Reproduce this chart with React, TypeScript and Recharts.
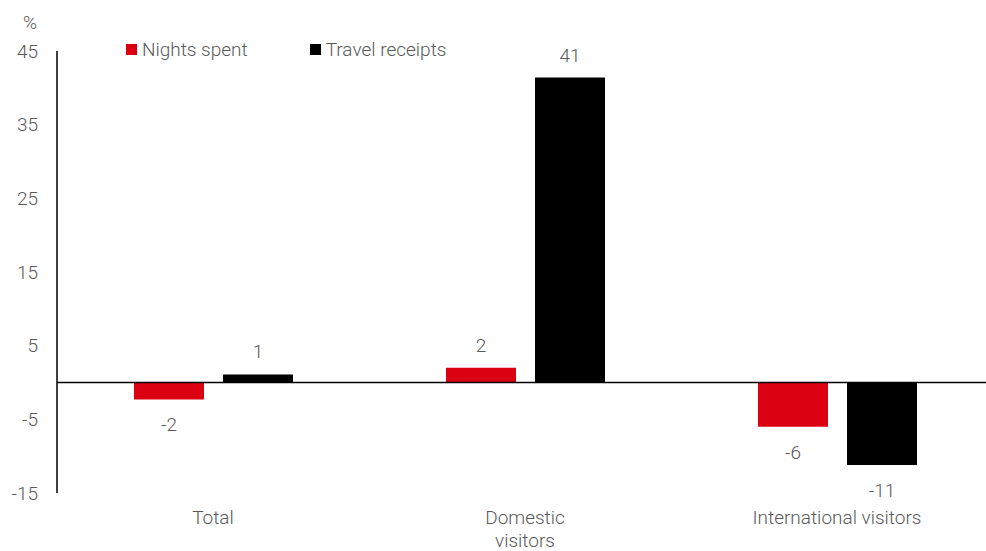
import React from "react";
import {
  BarChart,
  Bar,
  XAxis,
  YAxis,
  ReferenceLine,
  Legend,
  LabelList,
} from "recharts";

const categories = ["Total", "Domestic\nvisitors", "International visitors"];
const nightsSpent = [-2.3, 2.0, -6.0];
const travelReceipts = [1.1, 41.4, -11.2];
const yTicks = [-15, -5, 5, 15, 25, 35, 45];

const data = categories.map((name, i) => ({
  name,
  nights: nightsSpent[i],
  receipts: travelReceipts[i],
}));

const TEXT = "#595959";
const RED = "#DA0012";
const FONT = 19;

function CategoryTick(props: any) {
  const { x, y, payload } = props;
  const lines = String(payload.value).split("\n");
  return (
    <g transform={`translate(${x},${y})`}>
      <text textAnchor="middle" fill={TEXT} fontSize={FONT}>
        {lines.map((l, i) => (
          <tspan key={i} x={0} dy={i === 0 ? 23 : 23}>
            {l}
          </tspan>
        ))}
      </text>
    </g>
  );
}

function ValueLabel(props: any) {
  const { x, y, width, height, value } = props;
  const top = Math.min(y, y + height);
  const bottom = Math.max(y, y + height);
  const cx = x + width / 2;
  const neg = value < 0;
  return (
    <text
      x={cx}
      y={neg ? bottom + 32 : top - 16}
      textAnchor="middle"
      fill={TEXT}
      fontSize={FONT}
    >
      {Math.round(value)}
    </text>
  );
}

function LegendContent({ payload }: any) {
  return (
    <div style={{ display: "flex", alignItems: "center", fontSize: FONT, color: TEXT }}>
      {(payload || []).map((p: any, i: number) => (
        <div
          key={i}
          style={{ display: "flex", alignItems: "center", marginRight: i === 0 ? 62 : 0 }}
        >
          <span
            style={{ width: 11, height: 11, background: p.color, display: "inline-block", marginRight: 5 }}
          />
          <span>{p.value}</span>
        </div>
      ))}
    </div>
  );
}

export default function App() {
  return (
    <div
      style={{
        position: "absolute",
        left: 0,
        top: 0,
        width: 986,
        height: 551,
        overflow: "hidden",
        background: "#fff",
        fontFamily: "Roboto, sans-serif",
        fontWeight: 300,
      }}
    >
      <div style={{ position: "absolute", left: 23, top: 11, fontSize: FONT, color: TEXT }}>%</div>
      <BarChart
        width={993}
        height={551}
        data={data}
        margin={{ top: 51, right: 0, bottom: 0, left: 0 }}
        barSize={70}
        barGap={19}
      >
        <YAxis
          width={57}
          domain={[-15, 45]}
          ticks={yTicks}
          type="number"
          axisLine={{ stroke: "#000", strokeWidth: 1.5 }}
          tickLine={false}
          tickMargin={13}
          tick={{ fill: TEXT, fontSize: FONT }}
          allowDataOverflow
        />
        <XAxis
          dataKey="name"
          height={58}
          axisLine={false}
          tickLine={false}
          interval={0}
          tick={<CategoryTick />}
        />
        <Legend
          layout="horizontal"
          verticalAlign="middle"
          align="center"
          content={<LegendContent />}
          wrapperStyle={{ top: 38, left: 126, width: "auto", height: "auto" }}
        />
        <Bar dataKey="nights" name="Nights spent" fill={RED} isAnimationActive={false}>
          <LabelList dataKey="nights" content={<ValueLabel />} />
        </Bar>
        <Bar dataKey="receipts" name="Travel receipts" fill="#000" isAnimationActive={false}>
          <LabelList dataKey="receipts" content={<ValueLabel />} />
        </Bar>
        <ReferenceLine y={0} stroke="#000" strokeWidth={1.5} />
      </BarChart>
    </div>
  );
}
